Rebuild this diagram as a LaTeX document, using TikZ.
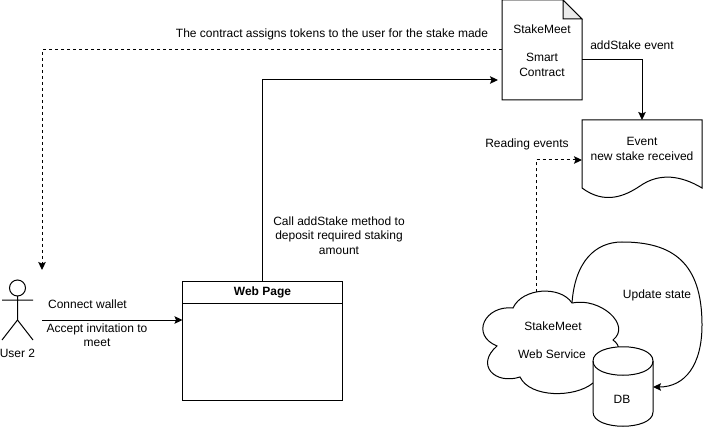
\documentclass[tikz,border=0pt]{standalone}
\usepackage{fontspec}
\setmainfont{Liberation Sans}
\usetikzlibrary{arrows.meta, calc}

\tikzset{
    lbl/.style={font=\fontsize{12}{14.5}\selectfont, align=center, inner sep=0pt},
    conn/.style={-{Stealth[length=8pt, width=7.5pt, inset=1.5pt]}, line width=1pt},
    shapebox/.style={inner sep=0pt, outer sep=0pt, line width=1pt},
}

\begin{document}
\begin{tikzpicture}[x=1pt, y=-1pt, line width=1pt]
\useasboundingbox (0,0) rectangle (703,427);

% Smart contract sheet
\node[shapebox, minimum width=80pt, minimum height=100pt] (contract) at (542,50) {};
\draw (contract.north west) -- (563,0) -- (582,19) -- (contract.south east) -- (contract.south west) -- cycle;
\draw[fill=black!8] (563,0) -- (563,19) -- (582,19) -- cycle;
\node[lbl] (contractname) at (542,29) {StakeMeet};
\node[lbl] (contracttype) at (542,65) {Smart\\Contract};

% Event sheet
\node[shapebox, minimum width=120pt, minimum height=80pt] (event) at (642,160) {};
\draw (event.north west) -- (event.north east) -- (702,188)
    .. controls (682,176) and (660,172) .. (640,186)
    .. controls (625,196) and (605,205) .. (582,188) -- cycle;
\node[lbl] (eventtext) at (642,149) {Event\\new stake received};

% Web page
\node[shapebox, draw, minimum width=160pt, minimum height=119pt] (webpage) at (262.5,340.5) {};
\draw (webpage.north west) ++(0,22) -- ++(160,0);
\node[lbl, font=\fontsize{12}{14.5}\selectfont\bfseries] (webtitle) at (262.5,292.5) {Web Page};

% User
\node[shapebox, minimum width=31pt, minimum height=60pt] (user) at (17.5,310) {};
\draw (17.5,288) circle (8);
\draw (17.5,296) -- (17.5,320) (2,300) -- (33,300) (2,340) -- (17.5,320) -- (33,340);
\node[lbl] (username) at (17.5,353.5) {User 2};
\coordinate (userin) at (42,270);
\coordinate (userout) at (42,320);

% Web service and DB
\draw[fill=white] (513,308) .. controls (522,288) and (560,285) .. (572,303)
    .. controls (600,297) and (632,325) .. (613,340)
    .. controls (628,350) and (615,378) .. (593,383)
    .. controls (575,398) and (530,398) .. (520,377)
    .. controls (495,385) and (475,365) .. (497,346)
    .. controls (470,335) and (485,305) .. (513,308) -- cycle;
\node[shapebox] (service) at (536,292) {};
\node[shapebox] (servicetop) at (572,303) {};
\node[lbl] (servicename) at (553,326) {StakeMeet};
\node[lbl] (servicetype) at (552,354) {Web Service};
\node[shapebox, minimum width=60pt, minimum height=80pt] (db) at (623,387) {};
\draw[fill=white] (593,361) .. controls (593,342) and (653,342) .. (653,361) -- (653,412)
    .. controls (653,431) and (593,431) .. (593,412) -- cycle;
\draw (593,361) .. controls (593,380) and (653,380) .. (653,361);
\node[lbl] (dbname) at (622,399) {DB};

% Connectors
\draw[conn, dashed] (contract.west) -- (userin |- contract.west) -- (userin);
\draw[conn] (webpage.north) -- (webpage.north |- 0,80) -- (498,80);
\draw[conn] ([yshift=-10pt]contract.east) -| (event.north);
\draw[conn, dashed] (service) -- (service |- event.west) -- (event.west);
\draw[conn] (userout) -- (userout -| webpage.west);
\draw[conn] (servicetop) .. controls (575,262) and (595,242) .. (622,242)
    .. controls (672,242) and (702,262) .. (702,325)
    .. controls (702,365) and (685,387) .. (db.east);

% Labels
\node[lbl] (tokenslbl) at (332,34) {The contract assigns tokens to the user for the stake made};
\node[lbl] (addstakelbl) at (632,45) {addStake event};
\node[lbl] (readinglbl) at (527,144) {Reading events};
\node[lbl] (calllbl) at (339,235.5) {Call addStake method to\\deposit required staking\\amount};
\node[lbl] (walletlbl) at (87.5,304) {Connect wallet};
\node[lbl] (acceptlbl) at (97,335) {Accept invitation to\\meet};
\node[lbl] (updatelbl) at (657,295) {Update state};
\end{tikzpicture}
\end{document}
